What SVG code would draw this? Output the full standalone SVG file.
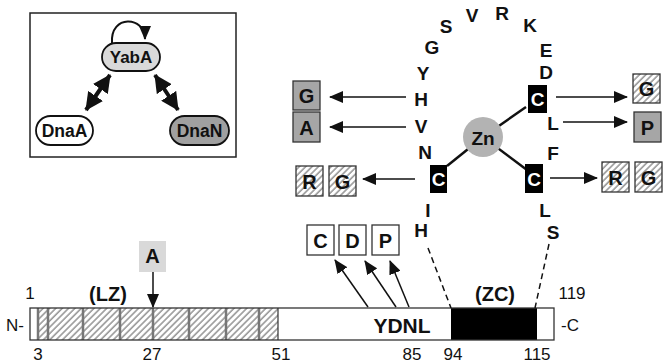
<svg xmlns="http://www.w3.org/2000/svg" width="665" height="362" viewBox="0 0 665 362">
<defs>
<style>
.t{font-family:"Liberation Sans",Arial,sans-serif;font-weight:bold;fill:#111;text-anchor:middle;dominant-baseline:central}
.aa{font-size:19px}
.bx{font-size:20px}
.n{font-family:"Liberation Sans",Arial,sans-serif;font-size:17px;fill:#111;text-anchor:middle;dominant-baseline:central}
.ar{stroke:#111;stroke-width:1.5;fill:none;marker-end:url(#ah)}
.box{stroke:#333;stroke-width:1.3}
.gray{fill:#a6a6a6}
.wh{fill:#fff}
.hat{fill:url(#hatch)}
.cb{fill:#000}
.ct{font-family:"Liberation Sans",Arial,sans-serif;font-weight:bold;font-size:19px;fill:#fff;text-anchor:middle;dominant-baseline:central}
.dash{stroke:#111;stroke-width:1.5;stroke-dasharray:6,4;fill:none}
.zl{stroke:#111;stroke-width:2.5}
.seg{stroke:#777;stroke-width:2.5}
</style>
<pattern id="hatch" patternUnits="userSpaceOnUse" width="4.5" height="4.5" patternTransform="rotate(45)">
<rect width="5" height="5" fill="#fff"/>
<line x1="1" y1="0" x2="1" y2="5" stroke="#999" stroke-width="1.6"/>
</pattern>
<marker id="ah" markerUnits="userSpaceOnUse" markerWidth="14" markerHeight="12" refX="13" refY="6" orient="auto-start-reverse">
<path d="M0,0 L14,6 L0,12 z" fill="#111"/>
</marker>
<marker id="ahb" markerUnits="userSpaceOnUse" markerWidth="18" markerHeight="18" refX="17" refY="9" orient="auto-start-reverse">
<path d="M0,0 L18,9 L0,18 z" fill="#111"/>
</marker>
</defs>

<!-- inset -->
<g id="inset">
<rect x="30" y="13" width="206" height="144" fill="#fff" stroke="#222" stroke-width="1.5"/>
</g>
<g id="inset-connectors">
<path d="M112,43 C110,14 145,16 145,39" fill="none" stroke="#111" stroke-width="2" marker-end="url(#ah)"/>
<line x1="110" y1="75" x2="86" y2="110" stroke="#111" stroke-width="4" marker-start="url(#ahb)" marker-end="url(#ahb)"/>
<line x1="155" y1="75" x2="178" y2="110" stroke="#111" stroke-width="4" marker-start="url(#ahb)" marker-end="url(#ahb)"/>
</g>
<g id="yaba">
<rect x="102" y="43" width="58" height="28" rx="14" fill="#d9d9d9" stroke="#111" stroke-width="1.8"/>
<text class="t" x="131" y="57.5" font-size="17">YabA</text>
</g>
<g id="dnaa">
<rect x="36" y="116" width="57" height="29" rx="14.5" fill="#fff" stroke="#111" stroke-width="1.8"/>
<text class="t" x="64.5" y="130.5" font-size="17.5">DnaA</text>
</g>
<g id="dnan">
<rect x="170" y="116" width="59" height="29" rx="14.5" fill="#a0a0a0" stroke="#111" stroke-width="1.8"/>
<text class="t" x="199.5" y="130.5" font-size="17.5">DnaN</text>
</g>

<!-- zinc finger -->
<g id="loop-letters">
<text class="t aa" x="472" y="15">V</text>
<text class="t aa" x="446" y="26">S</text>
<text class="t aa" x="502" y="13">R</text>
<text class="t aa" x="530" y="25">K</text>
<text class="t aa" x="432" y="47">G</text>
<text class="t aa" x="546" y="50">E</text>
<text class="t aa" x="423" y="73">Y</text>
<text class="t aa" x="546" y="72">D</text>
<text class="t aa" x="421" y="99">H</text>
<text class="t aa" x="421" y="126">V</text>
<text class="t aa" x="553" y="123">L</text>
<text class="t aa" x="425" y="152">N</text>
<text class="t aa" x="553" y="153">F</text>
<text class="t aa" x="428" y="210">I</text>
<text class="t aa" x="421" y="230">H</text>
<text class="t aa" x="545" y="210">L</text>
<text class="t aa" x="553" y="232">S</text>
</g>
<g id="zn">
<line class="zl" x1="483" y1="137" x2="526" y2="107"/>
<line class="zl" x1="483" y1="137" x2="527" y2="170"/>
<line class="zl" x1="483" y1="137" x2="447" y2="166"/>
<circle cx="483" cy="137" r="20" fill="#b3b3b3"/>
<text class="t" x="483" y="138" font-size="19">Zn</text>
</g>
<g id="c1"><rect class="cb" x="528" y="85" width="19" height="28"/><text class="ct" x="537.5" y="99.5">C</text></g>
<g id="c2"><rect class="cb" x="525" y="164" width="18" height="29"/><text class="ct" x="534" y="179">C</text></g>
<g id="c3"><rect class="cb" x="430" y="165" width="17" height="28"/><text class="ct" x="438.5" y="179.5">C</text></g>

<!-- mutation boxes -->
<g id="mG1"><rect class="box gray" x="293" y="81" width="27" height="29"/><text class="t bx" x="306.5" y="96">G</text></g>
<g id="mA1"><rect class="box gray" x="293" y="112" width="27" height="30"/><text class="t bx" x="306.5" y="127.5">A</text></g>
<g id="mR1"><rect class="box hat" x="296" y="166" width="27" height="30"/><text class="t bx" x="309.5" y="181.5">R</text></g>
<g id="mG2"><rect class="box hat" x="329" y="166" width="27" height="30"/><text class="t bx" x="342.5" y="181.5">G</text></g>
<g id="mG3"><rect class="box hat" x="633" y="74" width="27" height="29"/><text class="t bx" x="646.5" y="89">G</text></g>
<g id="mP1"><rect class="box gray" x="634" y="112" width="27" height="30"/><text class="t bx" x="647.5" y="127.5">P</text></g>
<g id="mR2"><rect class="box hat" x="602" y="162" width="27" height="30"/><text class="t bx" x="615.5" y="177.5">R</text></g>
<g id="mG4"><rect class="box hat" x="635" y="162" width="27" height="30"/><text class="t bx" x="648.5" y="177.5">G</text></g>
<g id="mC"><rect class="box wh" x="307" y="225" width="27" height="30"/><text class="t bx" x="320.5" y="240.5">C</text></g>
<g id="mD"><rect class="box wh" x="339" y="225" width="27" height="30"/><text class="t bx" x="352.5" y="240.5">D</text></g>
<g id="mP2"><rect class="box wh" x="372" y="225" width="27" height="30"/><text class="t bx" x="385.5" y="240.5">P</text></g>
<g id="mA2"><rect x="139" y="241" width="27" height="31" fill="#d9d9d9"/><text class="t bx" x="152.5" y="256">A</text></g>

<!-- bar -->
<g id="bar">
<rect x="30" y="308" width="524" height="32" fill="#fff"/>
<rect x="38" y="308" width="240" height="32" class="hat"/>
<rect x="451" y="308" width="86" height="32" fill="#000"/>
<line class="seg" x1="38" y1="308" x2="38" y2="340"/>
<line class="seg" x1="48" y1="308" x2="48" y2="340"/>
<line class="seg" x1="83" y1="308" x2="83" y2="340"/>
<line class="seg" x1="120" y1="308" x2="120" y2="340"/>
<line class="seg" x1="153" y1="308" x2="153" y2="340"/>
<line class="seg" x1="189" y1="308" x2="189" y2="340"/>
<line class="seg" x1="226" y1="308" x2="226" y2="340"/>
<line class="seg" x1="259" y1="308" x2="259" y2="340"/>
<line x1="278" y1="308" x2="278" y2="340" stroke="#333" stroke-width="1.2"/>
<rect x="30" y="308" width="524" height="32" fill="none" stroke="#333" stroke-width="1.3"/>
<text class="t" x="402" y="325" font-size="21">YDNL</text>
<text class="t" x="108" y="294" font-size="20">(LZ)</text>
<text class="t" x="495" y="294" font-size="20">(ZC)</text>
<text class="n" x="30" y="293">1</text>
<text class="n" x="572" y="293">119</text>
<text class="n" x="15" y="325">N-</text>
<text class="n" x="570" y="325">-C</text>
<text class="n" x="38" y="354">3</text>
<text class="n" x="152" y="354">27</text>
<text class="n" x="281" y="354">51</text>
<text class="n" x="412" y="354">85</text>
<text class="n" x="453" y="354">94</text>
<text class="n" x="537" y="354">115</text>
</g>

<g id="connectors">
<line class="ar" x1="406" y1="97" x2="330" y2="97"/>
<line class="ar" x1="406" y1="127" x2="330" y2="127"/>
<line class="ar" x1="415" y1="179" x2="363" y2="179"/>
<line class="ar" x1="556" y1="97" x2="627" y2="97"/>
<line class="ar" x1="563" y1="122" x2="627" y2="122"/>
<line class="ar" x1="550" y1="178" x2="597" y2="178"/>
<line class="ar" x1="368" y1="307" x2="335" y2="260"/>
<line class="ar" x1="396" y1="307" x2="365" y2="261"/>
<line class="ar" x1="409" y1="307" x2="390" y2="261"/>
<line class="ar" x1="153" y1="272" x2="153" y2="307"/>
<line class="dash" x1="428" y1="248" x2="451" y2="308"/>
<line class="dash" x1="549" y1="244" x2="535" y2="308"/>
</g>
</svg>
